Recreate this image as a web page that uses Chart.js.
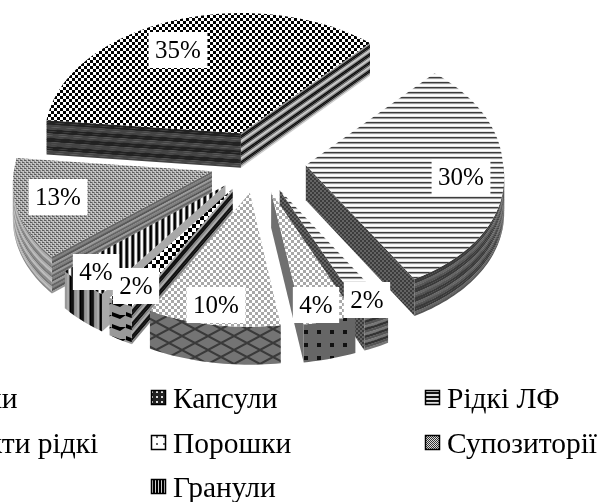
<!DOCTYPE html>
<html><head><meta charset="utf-8">
<style>html,body{margin:0;padding:0;background:#fff;overflow:hidden}canvas{display:block;filter:blur(.5px)}</style>
<script src="https://cdn.jsdelivr.net/npm/chart.js@4"></script>
</head><body><canvas id="c" width="601" height="502"></canvas>
<script>
const categories = ["Таблетки","Рідкі ЛФ","Екстракти рідкі","Капсули","Порошки","Мазі","Гранули","Супозиторії"];
const shares = [35,30,2,4,10,2,4,13];
const legendOrder = ["Таблетки","Капсули","Рідкі ЛФ","Екстракти рідкі","Порошки","Супозиторії","Мазі","Гранули"];
// layout only
const labelCentres = [[178,50],[461,177],[367,300],[316,305],[216,305],[136,286],[96,272],[58,197]];
const legendCols = [-98,173,447], legendRows = [408,453,497];
const legendCell = [[0,0],[1,0],[2,0],[0,1],[1,1],[2,1],[0,2],[1,2]];
const VIEW = {sq:.645, curve:.00012, perspBack:.00012, perspFront:.0004, depth:35, depthK:.012};

const tile=(w,h,fn)=>{const t=document.createElement('canvas');t.width=w;t.height=h;const g=t.getContext('2d');fn(g,w,h);return t.getContext('2d').createPattern(t,'repeat');};
const checker=(n,a,b)=>tile(2*n,2*n,g=>{g.fillStyle=b;g.fillRect(0,0,2*n,2*n);g.fillStyle=a;g.fillRect(0,0,n,n);g.fillRect(n,n,n,n);});
const rows=cols=>tile(1,cols.length,g=>cols.forEach((c,i)=>{g.fillStyle=c;g.fillRect(0,i,1,1);}));
const colsP=cols=>tile(cols.length,1,g=>cols.forEach((c,i)=>{g.fillStyle=c;g.fillRect(i,0,1,1);}));
const rep=(a,n)=>{let r=[];for(let i=0;i<n;i++)r=r.concat(a);return r;};

const hLines=rows(['#fff','#e4e4e4','#3c3c3c','#999','#f4f4f4']);
const lightCheck=checker(3,'#fff','#a8a8a8');
const dotsDark=tile(13,13,g=>{g.fillStyle='#666';g.fillRect(0,0,13,13);g.fillStyle='#111';g.fillRect(5,5,4,4);});
const hatch=tile(26,14,g=>{g.fillStyle='#747474';g.fillRect(0,0,26,14);g.strokeStyle='#3a3a3a';g.lineWidth=2;g.beginPath();g.moveTo(0,0);g.lineTo(26,14);g.moveTo(0,14);g.lineTo(26,0);g.stroke();});
const weave=tile(4,4,g=>{g.fillStyle='#c4c4c4';g.fillRect(0,0,4,4);g.fillStyle='#5c5c5c';g.fillRect(0,0,2,1);g.fillRect(2,2,2,1);g.fillStyle='#8c8c8c';g.fillRect(2,0,1,2);g.fillRect(0,2,1,2);});
const darkWeave=checker(2,'#3c3c3c','#646464');
const vStripes=colsP(['#000','#111','#999','#fff','#eee','#555']);
const vStripesRim=colsP(['#000','#111','#111','#222','#888','#999','#999','#aaa','#aaa','#555']);
const bigCheck=checker(4,'#000','#fff');
const arrows=tile(14,12,g=>{g.fillStyle='#999';g.fillRect(0,0,14,12);g.fillStyle='#000';g.beginPath();g.moveTo(0,0);g.lineTo(8,3);g.lineTo(14,3);g.lineTo(8,7);g.lineTo(0,4);g.fill();});

const topFill=[checker(3,'#000','#fff'),hLines,hLines,lightCheck,lightCheck,bigCheck,vStripes,weave];
const wallStart=[rep(['#222','#222','#444','#444'],4),null,null,null,null,rep(['#aaa','#111','#111','#888'],3),'#a8a8a8',rep(['#666','#808080','#585858','#9a9a9a'],4)];
const wallEnd=[rep(['#999','#111','#111','#777','#ccc'],4),darkWeave,darkWeave,'#707070',null,null,null,null];
const wallRim=[null,rep(['#3a3a3a','#3a3a3a','#666','#555'],4),rep(['#333','#555','#777'],5),dotsDark,hatch,arrows,vStripesRim,rep(['#777','#aaa','#bbb','#888'],4)];
const swatch=[topFill[0],tile(5,5,g=>{g.fillStyle='#222';g.fillRect(0,0,5,5);g.fillStyle='#ddd';g.fillRect(1,1,2,2);}),rows(['#111','#111','#ddd','#ddd']),weave,tile(7,7,g=>{g.fillStyle='#fff';g.fillRect(0,0,7,7);g.fillStyle='#666';g.fillRect(2,2,2,2);}),checker(1,'#333','#ddd'),bigCheck,colsP(['#000','#000','#ccc'])];

const pie3d={id:'pie3d',beforeDatasetsDraw(chart){
  const ctx=chart.ctx, meta=chart.getDatasetMeta(0);
  const P=(a,X,Y)=>({x:a.x+X*(1+(Y<0?VIEW.perspBack:VIEW.perspFront)*Y),y:a.y+VIEW.sq*Y+VIEW.curve*Y*Y});
  const dep=Y=>VIEW.depth+VIEW.depthK*Y;
  const wall=(pts,a,fill)=>{
    const quad=(f0,f1,c)=>{ctx.fillStyle=c;ctx.beginPath();
      pts.forEach((p,i)=>{const q=P(a,p[0],p[1]);const y=q.y+dep(p[1])*f0;i?ctx.lineTo(q.x,y):ctx.moveTo(q.x,y);});
      [...pts].reverse().forEach(p=>{const q=P(a,p[0],p[1]);ctx.lineTo(q.x,q.y+dep(p[1])*f1);});
      ctx.closePath();ctx.fill();};
    if(Array.isArray(fill)){fill.forEach((c,i)=>quad(i/fill.length,Math.min(1,(i+1.15)/fill.length),c));}
    else quad(0,1,fill);
  };
  const order=meta.data.map((a,i)=>({a,i,mid:(a.startAngle+a.endAngle)/2})).sort((p,q)=>Math.sin(p.mid)-Math.sin(q.mid));
  order.forEach(({a,i,mid})=>{
    const off=a.options.offset, ox=off*Math.cos(mid), oy=off*Math.sin(mid), R=a.outerRadius, t0=a.startAngle, t1=a.endAngle;
    const rim=(u,v)=>{const n=Math.max(2,Math.ceil((v-u)*40)),o=[];for(let k=0;k<=n;k++){const t=u+(v-u)*k/n;o.push([ox+R*Math.cos(t),oy+R*Math.sin(t)]);}return o;};
    if(wallEnd[i]&&Math.cos(t1)>0)wall([[ox,oy],[ox+R*Math.cos(t1),oy+R*Math.sin(t1)]],a,wallEnd[i]);
    if(wallStart[i]&&Math.cos(t0)<0)wall([[ox,oy],[ox+R*Math.cos(t0),oy+R*Math.sin(t0)]],a,wallStart[i]);
    const u=Math.max(t0,0),v=Math.min(t1,Math.PI);
    if(wallRim[i]&&v>u)wall(rim(u,v),a,wallRim[i]);
    ctx.fillStyle=topFill[i];ctx.beginPath();
    const s=P(a,ox,oy);ctx.moveTo(s.x,s.y);
    rim(t0,t1).forEach(p=>{const q=P(a,p[0],p[1]);ctx.lineTo(q.x,q.y);});
    ctx.closePath();ctx.fill();
  });
  ctx.font='25px "Liberation Serif"';ctx.textAlign='center';ctx.textBaseline='middle';
  shares.forEach((v,i)=>{const t=v+'%',[x,y]=labelCentres[i],w=ctx.measureText(t).width+13;
    ctx.fillStyle='#fff';ctx.fillRect(x-w/2,y-18,w,36);ctx.fillStyle='#000';ctx.fillText(t,x,y+1);});
  ctx.font='29.5px "Liberation Serif"';ctx.textAlign='left';ctx.textBaseline='alphabetic';
  legendOrder.forEach((name,k)=>{const x=legendCols[legendCell[k][0]],y=legendRows[legendCell[k][1]];
    ctx.fillStyle=swatch[k];ctx.fillRect(x-22,y-18,15,15);
    ctx.strokeStyle='#000';ctx.lineWidth=1.5;ctx.strokeRect(x-21.5,y-17.5,14,14);
    ctx.fillStyle='#000';ctx.fillText(name,x,y);});
  return false;
}};
new Chart(document.getElementById('c'),{type:'pie',
  data:{labels:categories,datasets:[{data:shares,offset:48,borderWidth:0,backgroundColor:'#888'}]},
  options:{responsive:false,animation:false,devicePixelRatio:1,rotation:-84,radius:197,
    layout:{padding:{left:0,top:0,right:85,bottom:178}},
    plugins:{legend:{display:false},tooltip:{enabled:false}}},
  plugins:[pie3d]});
</script></body></html>
